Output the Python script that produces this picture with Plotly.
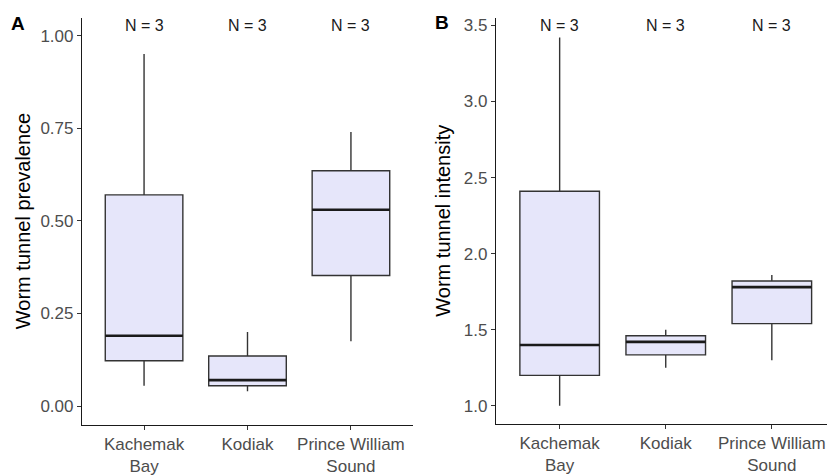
import numpy as np
import plotly.graph_objects as go

sites = ["Kachemak Bay", "Kodiak", "Prince William Sound"]
site_labels = ["Kachemak<br>Bay", "Kodiak", "Prince William<br>Sound"]

prevalence = {
    "Kachemak Bay": [0.055, 0.19, 0.95],
    "Kodiak": [0.04, 0.07, 0.20],
    "Prince William Sound": [0.175, 0.53, 0.74],
}
intensity = {
    "Kachemak Bay": [1.00, 1.40, 3.42],
    "Kodiak": [1.25, 1.42, 1.50],
    "Prince William Sound": [1.30, 1.78, 1.86],
}
n_labels = ["N = 3", "N = 3", "N = 3"]

FILL = "#E6E6FA"
LINE = "#333333"
FONT = "Liberation Sans, Arial, sans-serif"

fig = go.Figure()

def add_panel(data, xaxis, yaxis):
    for i, s in enumerate(sites):
        vals = data[s]
        fig.add_trace(go.Box(
            x=[s] * len(vals), y=vals,
            xaxis=xaxis, yaxis=yaxis,
            fillcolor=FILL, line=dict(color=LINE, width=1.4),
            boxpoints=False, whiskerwidth=0, width=0.75,
            quartilemethod="inclusive", showlegend=False, hoverinfo="y",
        ))
        med = float(np.median(vals))
        fig.add_shape(type="line", xref=xaxis, yref=yaxis,
                      x0=i - 0.375, x1=i + 0.375, y0=med, y1=med,
                      line=dict(color="#1a1a1a", width=2.6))
        fig.add_annotation(x=s, xref=xaxis, y=(476 - 25) / 476, yref="paper",
                           yanchor="middle", xanchor="center",
                           text=n_labels[i], showarrow=False,
                           font=dict(size=16, color="#1a1a1a", family=FONT))

add_panel(prevalence, "x", "y")
add_panel(intensity, "x2", "y2")

axis_common = dict(showline=True, linecolor="#1a1a1a", linewidth=1.2,
                   ticks="outside", ticklen=4, tickcolor="#333333", tickwidth=1,
                   showgrid=False, zeroline=False,
                   tickfont=dict(size=17, color="#4D4D4D", family=FONT))

fig.update_layout(
    width=827, height=476,
    margin=dict(l=0, r=0, t=0, b=0),
    plot_bgcolor="white", paper_bgcolor="white",
    xaxis=dict(domain=[82 / 827, 413 / 827], type="category",
               categoryorder="array", categoryarray=sites,
               tickvals=sites, ticktext=site_labels,
               range=[-0.6, 2.6], anchor="y", **axis_common),
    yaxis=dict(domain=[47 / 476, 459 / 476], range=[-0.05, 1.048],
               tickvals=[0, 0.25, 0.5, 0.75, 1.0],
               ticktext=["0.00", "0.25", "0.50", "0.75", "1.00"],
               anchor="x", **axis_common),
    xaxis2=dict(domain=[496 / 827, 1.0], type="category",
                categoryorder="array", categoryarray=sites,
                tickvals=sites, ticktext=site_labels,
                range=[-0.6, 2.52], anchor="y2", **axis_common),
    yaxis2=dict(domain=[48 / 476, 459 / 476], range=[0.883, 3.55],
                tickvals=[1.0, 1.5, 2.0, 2.5, 3.0, 3.5],
                ticktext=["1.0", "1.5", "2.0", "2.5", "3.0", "3.5"],
                anchor="x2", **axis_common),
    font=dict(family=FONT),
)

fig.add_annotation(x=23 / 827, y=0.5 * (47 + 459) / 476, xref="paper", yref="paper",
                   xanchor="center", yanchor="middle",
                   text="Worm tunnel prevalence", textangle=-90, showarrow=False,
                   font=dict(size=20, color="black", family=FONT))
fig.add_annotation(x=443 / 827, y=0.5 * (48 + 459) / 476, xref="paper", yref="paper",
                   xanchor="center", yanchor="middle",
                   text="Worm tunnel intensity", textangle=-90, showarrow=False,
                   font=dict(size=20, color="black", family=FONT))
fig.add_annotation(x=18 / 827, y=(476 - 23) / 476, xref="paper", yref="paper",
                   xanchor="center", yanchor="middle",
                   text="<b>A</b>", showarrow=False,
                   font=dict(size=19, color="black", family=FONT))
fig.add_annotation(x=442 / 827, y=(476 - 22) / 476, xref="paper", yref="paper",
                   xanchor="center", yanchor="middle",
                   text="<b>B</b>", showarrow=False,
                   font=dict(size=19, color="black", family=FONT))

fig.write_html("out.html")
